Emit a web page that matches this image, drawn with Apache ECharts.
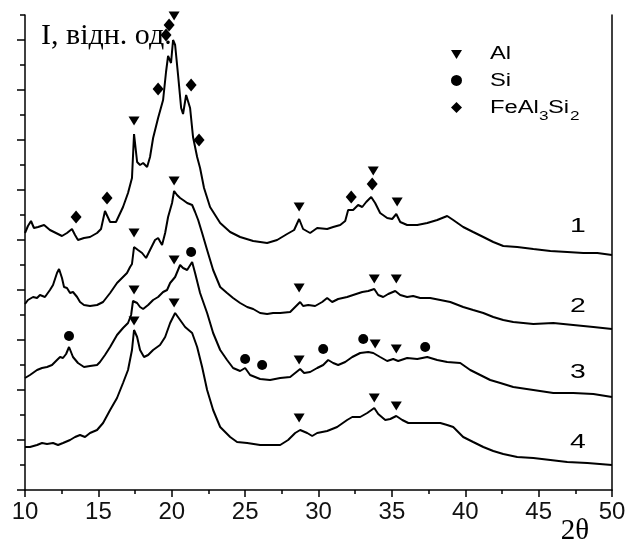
<!DOCTYPE html>
<html>
<head>
<meta charset="utf-8">
<script src="https://cdn.jsdelivr.net/npm/echarts@6/dist/echarts.min.js"></script>
<style>
  html, body { margin: 0; padding: 0; background: #fff; }
  #chart { width: 628px; height: 545px; }
</style>
</head>
<body>
<div id="chart"></div>
<script>
// ---- data (2θ in degrees, intensity in relative units) ----
const x1 = [10.00,10.20,10.41,10.61,10.89,11.30,11.70,12.11,12.52,12.86,13.20,13.41,13.61,14.02,14.43,14.91,15.18,15.45,15.80,16.20,16.68,17.02,17.29,17.43,17.64,17.84,18.05,18.32,18.52,18.73,19.07,19.41,19.61,19.75,19.95,20.09,20.23,20.43,20.64,20.77,20.98,21.11,21.25,21.45,21.73,21.93,22.20,22.61,23.30,23.98,24.66,25.55,26.50,27.18,27.86,28.34,28.68,28.95,29.43,29.91,30.59,31.00,31.48,31.82,32.02,32.36,32.70,32.98,33.25,33.59,33.86,34.20,34.68,35.02,35.30,35.57,36.04,36.73,37.41,38.09,38.77,39.18,39.86,40.54,41.23,41.91,42.59,43.54,44.64,45.80,46.95,48.05,49.00,50.00];
const y1 = [257,264,269,262,263,265,260,257,254,257,261,255,250,252,253,257,261,279,268,268,283,297,312,356,328,325,327,323,333,352,372,390,418,434,427,450,445,415,382,376,395,396,382,353,333,322,302,283,267,258,253,249,247,250,256,260,271,261,257,262,261,263,265,269,280,280,285,283,288,293,287,277,272,271,276,268,265,265,267,270,274,270,263,258,253,248,244,243,241,239,238,237,237,235];

const x2 = [10.00,10.20,10.55,10.82,11.02,11.36,11.70,11.91,12.18,12.32,12.52,12.66,12.86,13.07,13.27,13.55,13.75,14.02,14.43,14.91,15.32,15.80,16.27,16.61,16.95,17.16,17.29,17.43,17.70,17.98,18.25,18.52,18.86,19.07,19.34,19.55,19.75,20.02,20.16,20.36,20.57,20.77,21.05,21.39,21.59,21.80,22.07,22.41,22.82,23.30,23.77,24.18,24.66,25.14,25.55,26.02,26.50,26.91,27.39,28.07,28.41,28.75,28.95,29.30,29.77,30.25,30.59,30.93,31.34,31.95,32.36,32.98,33.39,33.80,34.07,34.41,34.75,35.23,35.57,36.04,36.45,36.93,37.61,38.30,38.98,39.86,40.54,41.23,41.91,42.59,43.27,44.64,46.00,47.36,48.73,50.00];
const y2 = [186,190,193,192,195,193,200,205,217,221,212,203,202,197,198,193,188,185,184,185,188,197,207,212,217,223,226,243,240,237,232,240,250,252,245,257,273,287,299,295,292,290,287,285,278,270,257,240,220,203,197,192,187,183,181,177,176,177,177,178,183,188,184,185,184,188,192,188,191,193,195,198,199,201,195,193,196,199,195,193,194,192,192,190,188,183,180,177,173,170,168,166,167,165,163,161];

const x3 = [10.00,10.34,10.82,11.16,11.50,11.84,12.18,12.39,12.59,12.80,13.00,13.27,13.61,14.02,14.43,14.91,15.11,15.45,15.80,16.27,16.68,17.02,17.23,17.36,17.64,17.84,18.05,18.39,18.73,19.07,19.41,19.68,19.89,20.23,20.57,20.77,21.05,21.39,21.59,21.93,22.41,22.82,23.30,23.77,24.18,24.66,25.00,25.34,26.02,26.70,27.39,28.07,28.41,28.75,29.02,29.43,29.91,30.32,30.66,31.00,31.34,31.82,32.30,32.84,33.39,33.73,34.20,34.68,35.09,35.43,36.04,36.73,37.41,38.09,38.77,39.66,40.34,41.02,41.70,42.39,43.27,44.64,46.00,47.36,48.73,50.00];
const y3 = [112,115,120,122,123,125,130,133,132,136,143,133,127,123,124,125,128,135,143,155,162,167,175,189,187,183,181,185,190,193,198,200,207,213,225,222,220,228,217,197,177,157,140,130,122,119,122,115,111,110,112,113,117,121,117,118,122,125,130,127,125,128,133,137,138,137,133,129,131,129,132,131,133,130,128,127,120,115,110,107,103,100,97,97,96,93];

const x4 = [10.00,10.34,10.82,11.16,11.50,11.91,12.25,12.59,13.07,13.41,13.75,14.09,14.43,14.91,15.32,15.80,16.27,16.68,17.02,17.29,17.43,17.64,17.84,18.11,18.39,18.73,19.20,19.55,19.89,20.23,20.57,20.91,21.39,21.73,22.07,22.41,22.82,23.30,23.98,24.45,25.14,26.02,26.91,27.39,27.93,28.41,28.75,29.23,29.57,29.91,30.59,31.27,31.95,32.30,32.84,33.32,33.80,34.07,34.55,34.89,35.30,35.71,36.12,36.93,37.61,38.30,38.77,39.18,39.86,40.54,41.23,41.91,42.59,43.54,44.64,45.80,46.95,48.32,50.00];
const y4 = [43,43,45,47,46,47,45,47,50,53,55,53,57,60,67,80,92,107,120,140,160,153,140,133,135,140,145,153,167,177,170,163,157,143,123,100,80,63,53,48,47,45,45,45,50,57,60,57,54,57,59,63,70,73,73,77,82,76,70,71,74,70,67,67,67,67,65,63,53,48,43,39,36,33,32,30,28,27,25];

// phase markers
const alX = [17.43,20.16,28.68,33.73,35.36, 17.43,20.16,28.68,33.80,35.30, 17.43,20.16,28.68,33.86,35.30, 17.43,20.16,28.68,33.80,35.30];
const alY = [369,474,283,319,288, 257,309,202,211,211, 200,230,130,146,141, 169,187,72,92,84];
const siX = [13.00,21.32,25.00,26.16,30.32,33.05,37.27];
const siY = [154,238,131,125,141,151,143];
const feX = [13.48,15.59,19.07,19.61,19.82,21.32,21.86,32.23,33.66];
const feY = [273,292,401,455,465,405,350,293,306];

const curveLabels = ['1', '2', '3', '4'];
const phaseNames = ['Al', 'Si', 'FeAl3Si2'];
const xTickStep = 5;
const yMajorTicks = [0, 50, 100, 150, 200, 250, 300, 350, 400, 450];

// ---- helpers ----
const pairs = (xs, ys) => xs.map((v, i) => [v, ys[i]]);
const INK = '#000';
const lineSeries = (xs, ys) => ({
  type: 'line', data: pairs(xs, ys), showSymbol: false, symbol: 'none',
  lineStyle: { color: INK, width: 2, opacity: 1 }, silent: true, z: 2
});
const legendText = (text, x, y, size) => ({
  type: 'text', x: x, y: y, scaleX: 1.32,
  style: { text: text, fontFamily: 'Liberation Sans', fontSize: size, fill: INK, align: 'left', verticalAlign: 'middle' }
});
const curveText = (text, y) => ({
  type: 'text', x: 578, y: y, scaleX: 1.35,
  style: { text: text, fontFamily: 'Liberation Sans', fontSize: 21, fill: INK, align: 'center', verticalAlign: 'middle' }
});

const chart = echarts.init(document.getElementById('chart'), null, { renderer: 'canvas' });

const option = {
  animation: false,
  backgroundColor: '#fff',
  title: {
    text: 'I, відн. од.', left: 36, top: 16,
    textStyle: { fontFamily: 'Liberation Serif', fontSize: 30, fontWeight: 'normal', color: INK }
  },
  legend: {
    orient: 'vertical', left: 451, top: 49, padding: 0,
    itemWidth: 11, itemHeight: 11, itemGap: 16,
    selectedMode: false,
    data: [
      { name: phaseNames[0], icon: 'path://M0,0 L10,0 L5,8 Z', itemStyle: { color: INK, opacity: 1 } },
      { name: phaseNames[1], icon: 'circle', itemStyle: { color: INK, opacity: 1 } },
      { name: phaseNames[2], icon: 'diamond', itemStyle: { color: INK, opacity: 1 } }
    ],
    formatter: () => '', textStyle: { fontSize: 1 }
  },
  grid: { left: 25, right: 16, top: 15, bottom: 55, outerBoundsMode: 'none' },
  xAxis: {
    type: 'value', min: 10, max: 50, interval: xTickStep,
    axisLine: { lineStyle: { color: INK, width: 1.5 } },
    axisTick: { length: 7, lineStyle: { color: INK, width: 1.5 } },
    minorTick: { show: true, splitNumber: 2, length: 4, lineStyle: { color: INK, width: 1.5 } },
    splitLine: { show: false }, minorSplitLine: { show: false },
    axisLabel: { fontFamily: 'Liberation Sans', fontSize: 24, color: '#111', margin: 10 },
    name: '2θ', nameLocation: 'end', nameGap: -37,
    nameTextStyle: { fontFamily: 'Liberation Serif', fontSize: 29, color: INK, align: 'center', verticalAlign: 'top', padding: [27, 0, 0, 0] }
  },
  yAxis: [
    {
      type: 'value', min: 0, max: 475, interval: 25, position: 'left',
      axisLine: { show: true, lineStyle: { color: INK, width: 1.5 } },
      axisTick: { show: true, length: 5, lineStyle: { color: INK, width: 1.5 } },
      axisLabel: { show: false }, splitLine: { show: false }
    },
    {
      type: 'value', min: 0, max: 475, interval: 25, position: 'right',
      axisLine: { show: true, lineStyle: { color: INK, width: 1.5 } },
      axisTick: { show: false }, axisLabel: { show: false }, splitLine: { show: false }
    },
    {
      type: 'value', min: 0, max: 475, interval: 50, position: 'left',
      axisLine: { show: false },
      axisTick: { show: true, length: 8, customValues: yMajorTicks, lineStyle: { color: INK, width: 1.5 } },
      axisLabel: { show: false }, splitLine: { show: false }
    }
  ],
  series: [
    lineSeries(x1, y1), lineSeries(x2, y2), lineSeries(x3, y3), lineSeries(x4, y4),
    { name: phaseNames[0], type: 'scatter', data: pairs(alX, alY), symbol: 'triangle', symbolRotate: 180,
      symbolSize: [11, 9], itemStyle: { color: INK, opacity: 1 }, silent: true, z: 3 },
    { name: phaseNames[1], type: 'scatter', data: pairs(siX, siY), symbol: 'circle',
      symbolSize: 10, itemStyle: { color: INK, opacity: 1 }, silent: true, z: 3 },
    { name: phaseNames[2], type: 'scatter', data: pairs(feX, feY), symbol: 'diamond',
      symbolSize: [11, 13], itemStyle: { color: INK, opacity: 1 }, silent: true, z: 3 }
  ],
  graphic: [
    legendText('Al', 490, 54, 18),
    legendText('Si', 490, 81, 18),
    legendText('FeAl', 490, 108, 18),
    legendText('3', 539, 116, 13),
    legendText('Si', 548, 108, 18),
    legendText('2', 570, 116, 13),
    curveText(curveLabels[0], 226),
    curveText(curveLabels[1], 306),
    curveText(curveLabels[2], 372),
    curveText(curveLabels[3], 442)
  ]
};
chart.setOption(option);
</script>
</body>
</html>
